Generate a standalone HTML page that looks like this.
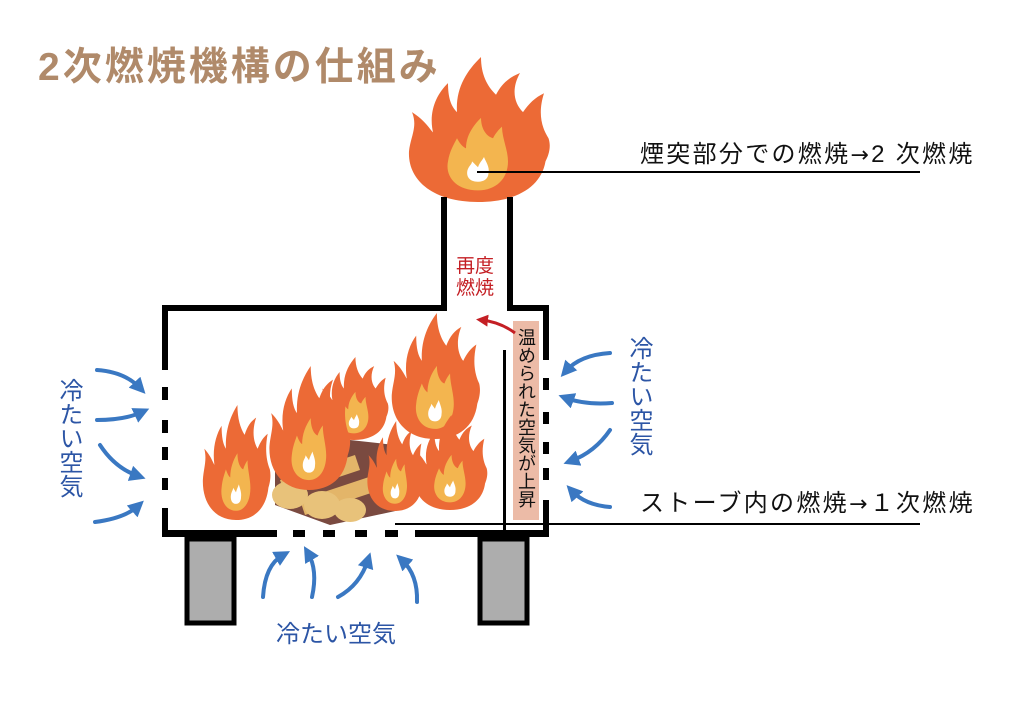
<!DOCTYPE html>
<html><head><meta charset="utf-8"><style>
html,body{margin:0;padding:0;background:#fff;}
body{width:1024px;height:719px;position:relative;overflow:hidden;font-family:"Liberation Sans","Noto Sans CJK JP",sans-serif;}
.t{position:absolute;white-space:nowrap;}
.v{writing-mode:vertical-rl;}
.ar{font-family:"DejaVu Sans",sans-serif;font-size:22px;}
</style></head><body>
<svg width="1024" height="719" style="position:absolute;left:0;top:0">
<defs>
<g id="fl">
<path d="M50,100 C20,100 3,85 4,65 C5,55 10,48 6,38 C15,44 18,50 20,52 C17,38 22,26 30,18 C30,28 32,34 36,38 C35,22 42,10 52,0 C52,12 56,20 62,26 C66,18 71,14 78,11 C72,22 74,32 80,38 C84,32 88,28 94,25 C90,38 92,48 97,56 C99,62 97,68 95,72 C92,90 75,100 50,100 Z" fill="#ec6a36"/>
<path d="M50,92 C35,92 28,82 30,72 C31,65 34,60 36,56 C38,60 40,62 42,63 C42,55 46,48 52,42 C52,50 56,55 60,56 C62,52 64,50 66,48 C66,56 70,64 70,72 C70,84 62,92 50,92 Z" fill="#f3b54f"/>
<path d="M50,86 C44,86 42,82 43,78 C44,75 46,74 46,72 C48,74 49,75 50,76 C51,73 53,71 54,69 C55,72 58,76 57,80 C57,84 54,86 50,86Z" fill="#fff"/>
</g>
<marker id="ab" viewBox="0 0 10 10" refX="5" refY="5" markerWidth="4" markerHeight="4" orient="auto"><path d="M0,0 L10,5 L0,10 Z" fill="#3a78c2"/></marker>
<marker id="ar" viewBox="0 0 10 10" refX="5" refY="5" markerWidth="4" markerHeight="4" orient="auto"><path d="M0,0 L10,5 L0,10 Z" fill="#c41f24"/></marker>
</defs>
<use href="#fl" transform="translate(403,57) scale(1.5,1.45)"/>
<rect x="441" y="197" width="6" height="114" fill="#000"/>
<rect x="507" y="197" width="6" height="114" fill="#000"/>
<rect x="162" y="305" width="285" height="6" fill="#000"/>
<rect x="507" y="305" width="42" height="6" fill="#000"/>
<rect x="162" y="305" width="6" height="65" fill="#000"/>
<rect x="162" y="387" width="6" height="13" fill="#000"/>
<rect x="162" y="420" width="6" height="13" fill="#000"/>
<rect x="162" y="447" width="6" height="13" fill="#000"/>
<rect x="162" y="478" width="6" height="12" fill="#000"/>
<rect x="162" y="508" width="6" height="29" fill="#000"/>
<rect x="543" y="305" width="6" height="55" fill="#000"/>
<rect x="543" y="378" width="6" height="12" fill="#000"/>
<rect x="543" y="412" width="6" height="12" fill="#000"/>
<rect x="543" y="442" width="6" height="12" fill="#000"/>
<rect x="543" y="468" width="6" height="12" fill="#000"/>
<rect x="543" y="500" width="6" height="37" fill="#000"/>
<rect x="162" y="530" width="115" height="7" fill="#000"/>
<rect x="293" y="530" width="12" height="7" fill="#000"/>
<rect x="323" y="530" width="12" height="7" fill="#000"/>
<rect x="355" y="530" width="12" height="7" fill="#000"/>
<rect x="385" y="530" width="13" height="7" fill="#000"/>
<rect x="415" y="530" width="134" height="7" fill="#000"/>
<rect x="187" y="539" width="47" height="84" fill="#adadad" stroke="#000" stroke-width="5"/>
<rect x="480" y="539" width="47" height="84" fill="#adadad" stroke="#000" stroke-width="5"/>
<rect x="503" y="350" width="3" height="180" fill="#000"/>
<rect x="513" y="321" width="26" height="199" fill="#ecbba7"/>
<line x1="477" y1="172" x2="920" y2="172" stroke="#000" stroke-width="2"/>
<line x1="395" y1="524" x2="920" y2="524" stroke="#000" stroke-width="2"/>
<g>
<path d="M275,470 L350,440 L395,445 L400,510 L330,525 L275,505 Z" fill="#7a4a40"/>
<path d="M280,480 L355,455 L360,470 L285,495 Z" fill="#e3b569"/>
<path d="M300,500 L375,475 L380,490 L305,515 Z" fill="#e3b569"/>
<ellipse cx="290" cy="495" rx="18" ry="14" fill="#e8c27a"/>
<ellipse cx="322" cy="505" rx="18" ry="14" fill="#e8c27a"/>
<ellipse cx="350" cy="510" rx="16" ry="12" fill="#e8c27a"/>
</g>
<use href="#fl" transform="translate(318,357) scale(0.72,0.83)"/>
<use href="#fl" transform="translate(200,405) scale(0.72,1.15)"/>
<use href="#fl" transform="translate(266,366) scale(0.86,1.24)"/>
<use href="#fl" transform="translate(388,313) scale(0.94,1.26)"/>
<use href="#fl" transform="translate(411,415) scale(0.78,0.95)"/>
<use href="#fl" transform="translate(365,421) scale(0.6,0.9)"/>
<path d="M515,333 Q500,322 482,320" fill="none" stroke="#c41f24" stroke-width="3" marker-end="url(#ar)"/>
<g fill="none" stroke="#3a78c2" stroke-width="4" stroke-linecap="round" marker-end="url(#ab)">
<path d="M97,370 Q125,372 140,388"/>
<path d="M97,420 Q125,420 142,412"/>
<path d="M100,445 Q115,468 138,476"/>
<path d="M95,522 Q125,518 138,506"/>
<path d="M610,353 Q580,355 566,371"/>
<path d="M612,403 Q585,405 566,398"/>
<path d="M610,430 Q595,452 571,461"/>
<path d="M610,507 Q585,505 572,491"/>
<path d="M263,597 Q265,565 283,555"/>
<path d="M312,597 Q318,570 308,553"/>
<path d="M338,597 Q360,585 368,560"/>
<path d="M417,602 Q418,575 402,560"/>
</g>
</svg>
<div class="t" style="left:38px;top:36px;font-size:39px;font-weight:bold;color:#b08a6a;letter-spacing:3px;">2次燃焼機構の仕組み</div>
<div class="t" style="left:640px;top:134px;font-size:24px;color:#111;letter-spacing:2.3px;">煙突部分での燃焼<span class="ar">→</span>2 次燃焼</div>
<div class="t" style="left:640px;top:483px;font-size:24px;color:#111;letter-spacing:2.3px;">ストーブ内の燃焼<span class="ar">→</span>１次燃焼</div>
<div class="t" style="left:456px;top:256px;font-size:19px;line-height:22px;color:#c41f24;">再度<br>燃焼</div>
<div class="t v" style="left:513px;top:328px;font-size:18px;line-height:26px;color:#111;">温められた空気が上昇</div>
<div class="t v" style="left:55px;top:378px;font-size:24px;line-height:26px;color:#2c55a5;">冷たい空気</div>
<div class="t v" style="left:625px;top:336px;font-size:24px;line-height:26px;color:#2c55a5;">冷たい空気</div>
<div class="t" style="left:276px;top:614px;font-size:24px;color:#2c55a5;">冷たい空気</div>
</body></html>
